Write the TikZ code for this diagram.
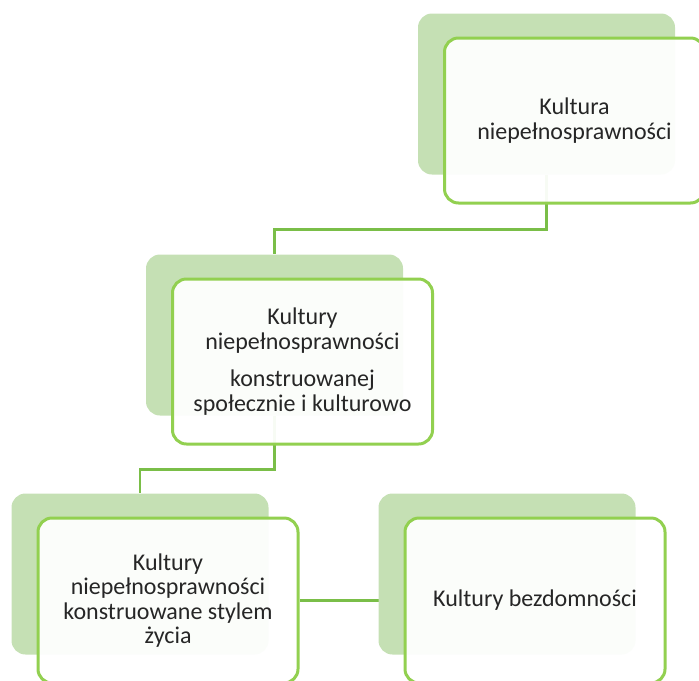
\documentclass[tikz,border=0pt]{standalone}
\usepackage{fontspec}
\setmainfont{Carlito}
\usetikzlibrary{calc,backgrounds,positioning}
\definecolor{leafgreen}{RGB}{146,208,80}
\definecolor{palegreen}{RGB}{197,224,180}
\definecolor{linkgreen}{RGB}{122,190,72}

\begin{document}
\begin{tikzpicture}[x=0.5pt,y=-0.5pt,
    back/.style={rectangle,rounded corners=7pt,fill=palegreen,minimum width=128.5pt,minimum height=80.5pt},
    front/.style={rectangle,rounded corners=7pt,draw=leafgreen,line width=1.5pt,fill=white,fill opacity=0.94,text opacity=1,
      minimum width=130pt,minimum height=82.5pt,align=center,text=black!85,font=\fontsize{12}{12.3}\selectfont,xshift=14pt,yshift=-13.25pt},
    link/.style={draw=linkgreen,line width=1.2pt}]
  \useasboundingbox (0,0) rectangle (699,680);
  \clip (0,0) rectangle (699,680);
  \node[back] (b1) at (546.5,94) {};
  \node[front] (f1) at (b1) {Kultura\\niepełnosprawności};
  \node[back] (b2) at (274.5,335) {};
  \node[front] (f2) at (b2) {Kultury\\niepełnosprawności\\[6.5pt]konstruowanej\\społecznie i kulturowo};
  \node[back] (b3) at (140,574) {};
  \node[front] (f3) at (b3) {Kultury\\niepełnosprawności\\konstruowane stylem\\życia};
  \node[back] (b4) at (507,574) {};
  \node[front] (f4) at (b4) {Kultury bezdomności};
  \begin{scope}[on background layer]
    \draw[link] (b1) |- ($(f1.south)!0.5!(b2.north)$) -| (b2);
    \draw[link] (b2) |- ($(f2.south)!0.5!(b3.north)$) -| (b3);
    \draw[link] (f3) -- (f4);
  \end{scope}
\end{tikzpicture}
\end{document}
